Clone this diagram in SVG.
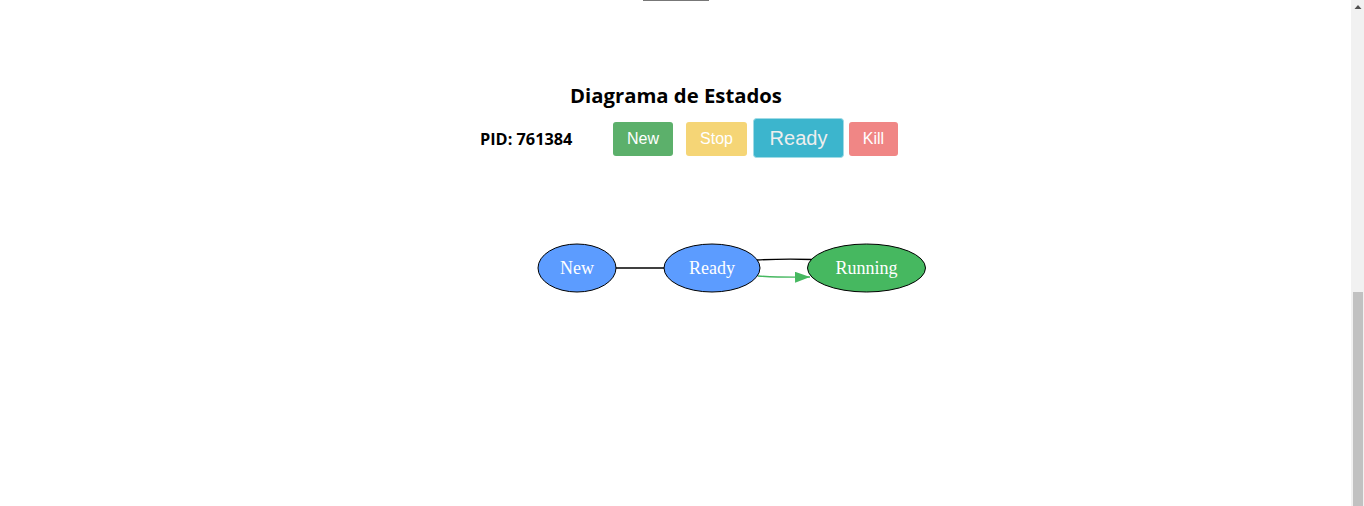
<svg xmlns="http://www.w3.org/2000/svg" width="1364" height="506" viewBox="0 0 1364 506">
<style>
.title{font-family:"Open Sans","Noto Sans",sans-serif;font-weight:bold;fill:#000}
.btn text{font-family:"Liberation Sans",Arial,sans-serif;fill:#fff;text-anchor:middle}
.node text{font-family:"Liberation Serif","Times New Roman",serif;font-size:18px;fill:#fff;text-anchor:middle}
.node ellipse{stroke:#000;stroke-width:1}
.blue{fill:#5c9cff}
.green{fill:#46b860}
</style>
<defs>
<marker id="arr" markerWidth="16" markerHeight="12" refX="15" refY="5.5" orient="auto" markerUnits="userSpaceOnUse">
<path d="M0,0 L15,5.5 L0,11 Z" fill="#46b860"/>
</marker>
</defs>
<rect width="1364" height="506" fill="#fff"/>
<line x1="643" y1="0.5" x2="709" y2="0.5" stroke="#777" stroke-width="1.2"/>
<!-- scrollbar -->
<rect x="1351" y="0" width="13" height="506" fill="#f1f1f1"/>
<rect x="1353" y="292" width="10" height="214" fill="#c1c1c1"/>
<path d="M1354.5,9 L1358,5 L1361.5,9 Z" fill="#505050"/>
<text class="title" x="676" y="103" font-size="20.3" text-anchor="middle">Diagrama de Estados</text>
<text class="title" x="480" y="145" font-size="16.3">PID: 761384</text>
<g id="btn-new" class="btn"><rect x="613" y="122" width="60" height="34" rx="3" fill="#5cb06b"/><text x="643" y="144" font-size="16">New</text></g>
<g id="btn-stop" class="btn"><rect x="686" y="122" width="61" height="34" rx="3" fill="#f5d576"/><text x="716.5" y="144" font-size="16">Stop</text></g>
<g id="btn-ready" class="btn"><rect x="753.5" y="118.5" width="90" height="39" rx="3" fill="#3cb5cd" stroke="#9fdbe6" stroke-width="1"/><text x="798.5" y="145" font-size="20" style="fill:#eeeeee">Ready</text></g>
<g id="btn-kill" class="btn"><rect x="849" y="122" width="49" height="34" rx="3" fill="#f08685"/><text x="873.5" y="144" font-size="16">Kill</text></g>
<g id="connectors" fill="none">
<line x1="616" y1="268" x2="664" y2="268" stroke="#000" stroke-width="1.3"/>
<path d="M757,260 Q785,258.5 812,259.5" stroke="#000" stroke-width="1.3"/>
<path d="M758,276 Q780,277.5 810,277" stroke="#46b860" stroke-width="1.3" marker-end="url(#arr)"/>
</g>
<g id="node-new" class="node"><ellipse cx="577" cy="268" rx="39" ry="24" class="blue"/><text x="577" y="274">New</text></g>
<g id="node-ready" class="node"><ellipse cx="712" cy="268" rx="48" ry="24" class="blue"/><text x="712" y="274">Ready</text></g>
<g id="node-running" class="node"><ellipse cx="866.5" cy="268" rx="59" ry="24" class="green"/><text x="866.5" y="274">Running</text></g>
</svg>
